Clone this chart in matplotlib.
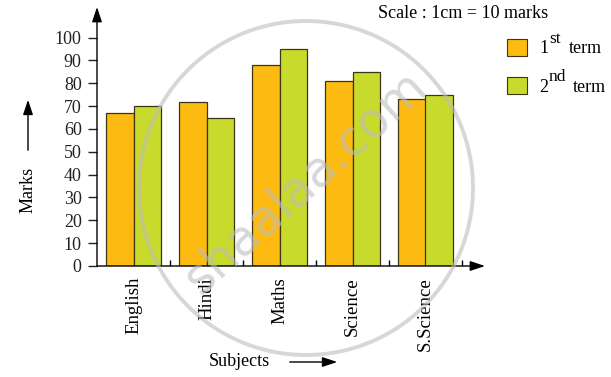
import matplotlib
matplotlib.use("Agg")
import matplotlib.pyplot as plt
import numpy as np
from matplotlib.patches import Ellipse, Rectangle, FancyArrowPatch

plt.rcParams['font.family'] = ['Liberation Serif', 'DejaVu Serif']

subjects = ["English", "Hindi", "Maths", "Science", "S.Science"]
term1 = [67, 72, 88, 81, 73]
term2 = [70, 65, 95, 85, 75]
yticks = [0, 10, 20, 30, 40, 50, 60, 70, 80, 90, 100]
series_labels = [("1", "st", "term"), ("2", "nd", "term")]
colors = ["#FDBB12", "#C8DA2C"]

W, H = 611, 377
fig = plt.figure(figsize=(W / 100, H / 100), dpi=100)

def fx(x):
    return x / W

def fy(y):
    return 1 - y / H

# axes: x=-0.5 at px 97, y=0 at px 266
ax_left, ax_right, ax_bottom, ax_top = 97, 485, 266, 7
ax = fig.add_axes([fx(ax_left), fy(ax_bottom), (ax_right - ax_left) / W, (ax_bottom - ax_top) / H])
ax.set_xlim(-0.5, -0.5 + (ax_right - ax_left) / 73.0)
ax.set_ylim(0, (ax_bottom - ax_top) / 2.284)
for s in ax.spines.values():
    s.set_visible(False)
ax.patch.set_alpha(0)

x = np.arange(len(subjects))
w = 0.37
ec = "#3d3512"
ax.bar(x - w / 2, term1, w, color=colors[0], edgecolor=ec, linewidth=0.9, zorder=2)
ax.bar(x + w / 2, term2, w, color=colors[1], edgecolor=ec, linewidth=0.9, zorder=2)

# axis arrows
for end in [(1, 0), (0, 1)]:
    ax.annotate("", xy=end, xytext=(0, 0), xycoords="axes fraction",
                arrowprops=dict(arrowstyle="-|>,head_length=0.9,head_width=0.3", color="black", lw=1.0,
                                shrinkA=0, shrinkB=0), zorder=3, annotation_clip=False)

ax.set_yticks(yticks)
ax.set_yticklabels([str(v) for v in yticks], fontsize=13)
ax.tick_params(axis="y", direction="out", length=6.5, width=1.0, pad=4.5, colors="#222222")

ax.set_xticks(x)
ax.set_xticklabels(subjects, rotation=90, fontsize=13.5, va="top", ha="center")
ax.tick_params(axis="x", which="major", length=0, pad=8)
ax.set_xticks(x + 0.5, minor=True)
ax.tick_params(axis="x", which="minor", direction="in", length=4, width=1.0)

# axis titles with arrows
fig.text(fx(28), fy(190), "Marks", rotation=90, ha="center", va="center", fontsize=13)
fig.add_artist(FancyArrowPatch(
    (fx(28), fy(153)), (fx(28), fy(97)), transform=fig.transFigure,
    arrowstyle="-|>,head_length=0.9,head_width=0.3", color="black", lw=1.0, mutation_scale=10))
fig.text(fx(239), fy(362), "Subjects", ha="center", va="center", fontsize=13)
fig.add_artist(FancyArrowPatch(
    (fx(287), fy(362)), (fx(340), fy(362)), transform=fig.transFigure,
    arrowstyle="-|>,head_length=0.9,head_width=0.3", color="black", lw=1.0, mutation_scale=10))

# scale text
fig.text(fx(463), fy(14), "Scale : 1cm = 10 marks", ha="center", va="center", fontsize=13)

# legend
layout = [dict(top=39, base=53, sup_base=43, word_x=569),
          dict(top=77, base=92, sup_base=81, word_x=573)]
for (num, sup, word), col, L in zip(series_labels, colors, layout):
    fig.add_artist(Rectangle((fx(507), fy(L["top"] + 17)), 20 / W, 17 / H, transform=fig.transFigure,
                             facecolor=col, edgecolor=ec, linewidth=0.8))
    fig.text(fx(539), fy(L["base"]), num, ha="left", va="baseline", fontsize=13)
    fig.text(fx(549), fy(L["sup_base"]), sup, ha="left", va="baseline", fontsize=12.5)
    fig.text(fx(L["word_x"]), fy(L["base"]), word, ha="left", va="baseline", fontsize=13)

# watermark
fig.add_artist(Ellipse((fx(306), fy(188)), 334 / W, 334 / H, transform=fig.transFigure,
                       fill=False, edgecolor="#bdbdbd", linewidth=2.8, alpha=0.6, zorder=10))
fig.text(fx(305), fy(182), "shaalaa.com", rotation=42, ha="center", va="center",
         fontsize=35, family="DejaVu Sans", color="#bdbdbd", alpha=0.6, zorder=10)

fig.savefig("out.png", dpi=100)
